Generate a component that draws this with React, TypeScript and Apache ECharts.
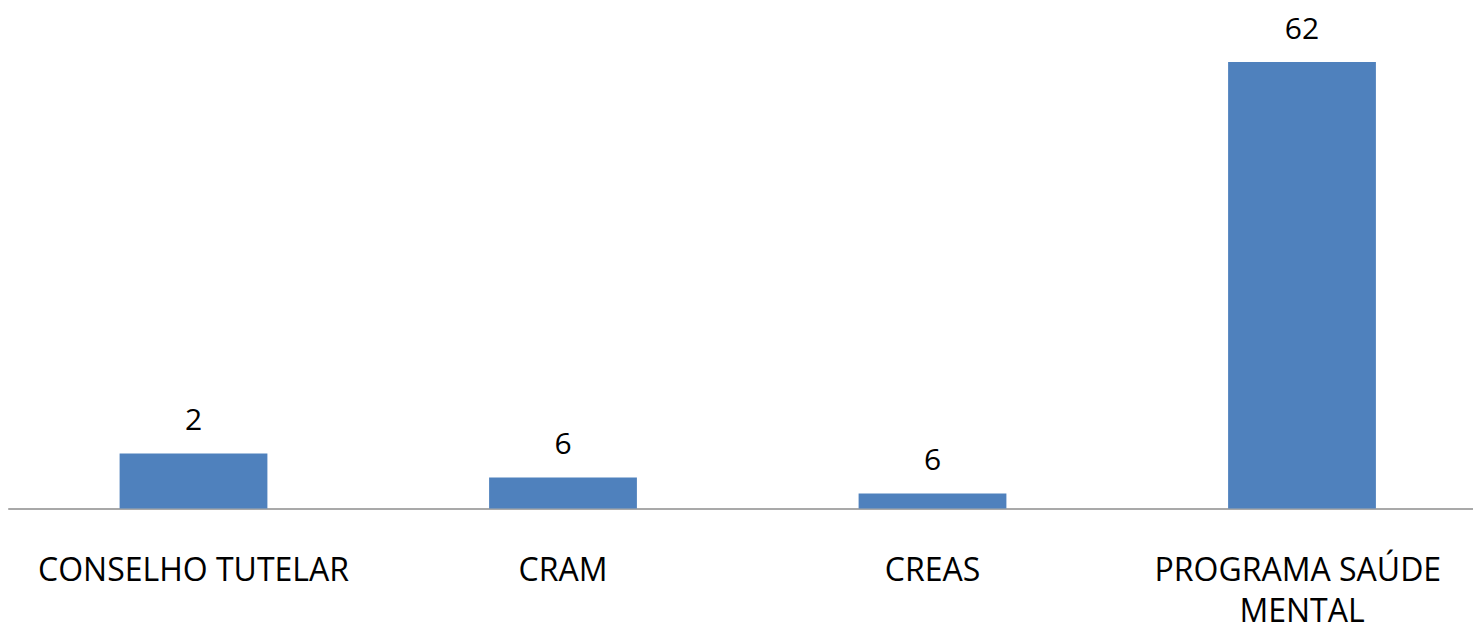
import React, { useEffect, useRef } from "react";
import * as echarts from "echarts";

const categories = ["CONSELHO TUTELAR", "CRAM", "CREAS", "PROGRAMA SAÚDE MENTAL"];
// bar heights as drawn in the reference
const barValues = [7.65, 4.3, 2.1, 62];
// data label texts as printed in the reference
const labelTexts = ["2", "6", "6", "62"];

export default function App() {
  const ref = useRef<HTMLDivElement>(null);
  useEffect(() => {
    document.body.style.margin = "0";
    document.body.style.overflow = "hidden";
    const chart = echarts.init(ref.current!, null, { renderer: "svg" });
    chart.setOption({
      animation: false,
      grid: {
        left: 8.75,
        top: 62,
        width: 1478,
        height: 446.5,
        containLabel: false,
        outerBoundsMode: "none",
      },
      xAxis: {
        type: "category",
        data: categories,
        axisLine: { lineStyle: { color: "#8c8c8c", width: 1.5 } },
        axisTick: { show: false },
        axisLabel: {
          interval: 0,
          color: "#000",
          fontFamily: "Open Sans",
          fontSize: 32,
          lineHeight: 41,
          margin: 39,
          width: 345,
          overflow: "break",
        },
      },
      yAxis: {
        type: "value",
        min: 0,
        max: 62,
        show: false,
        splitLine: { show: false },
      },
      series: [
        {
          type: "bar",
          data: barValues,
          barWidth: "40%",
          itemStyle: { color: "#4F81BD" },
          label: {
            show: true,
            position: "top",
            distance: 20,
            color: "#000",
            fontFamily: "Open Sans",
            fontSize: 30,
            formatter: (p: any) => labelTexts[p.dataIndex],
          },
        },
      ],
    });
    return () => chart.dispose();
  }, []);
  return <div ref={ref} style={{ width: 1473, height: 627 }} />;
}
